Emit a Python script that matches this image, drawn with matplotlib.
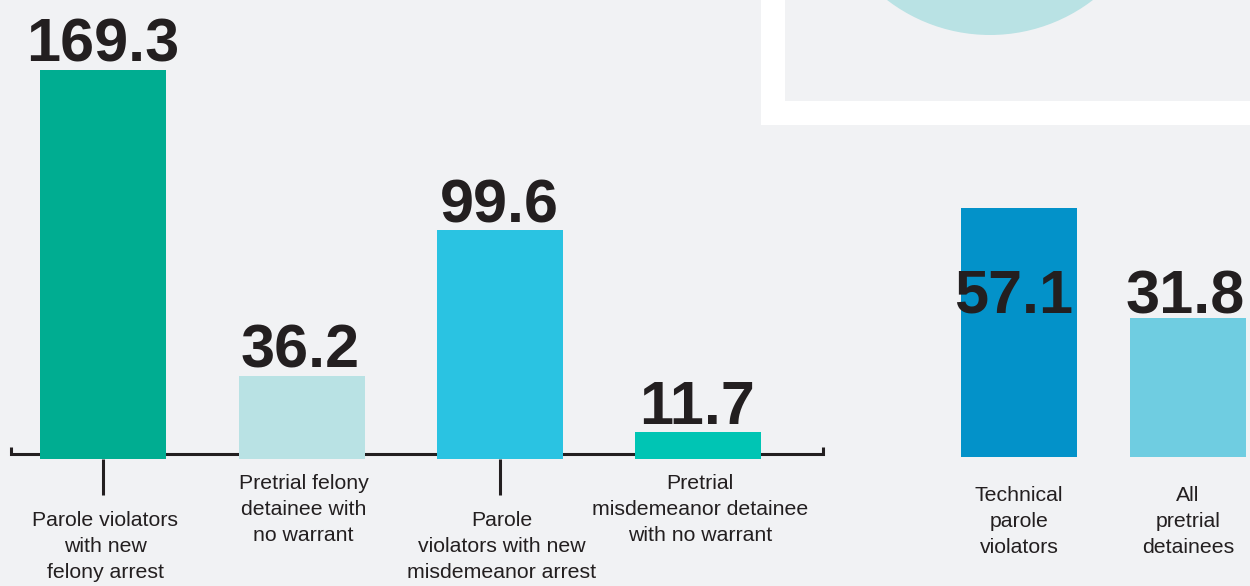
import matplotlib
matplotlib.use("Agg")
import matplotlib.pyplot as plt
from matplotlib.patches import Rectangle, Circle

# ---- data ----
left_categories = [
    "Parole violators\nwith new\nfelony arrest",
    "Pretrial felony\ndetainee with\nno warrant",
    "Parole\nviolators with new\nmisdemeanor arrest",
    "Pretrial\nmisdemeanor detainee\nwith no warrant",
]
left_values = [169.3, 36.2, 99.6, 11.7]
left_labels = ["169.3", "36.2", "99.6", "11.7"]
left_colors = ["#00AD91", "#B9E2E4", "#2AC3E2", "#00C5B4"]

right_categories = ["Technical\nparole\nviolators", "All\npretrial\ndetainees"]
right_values = [57.1, 31.8]
right_labels = ["57.1", "31.8"]
right_colors = ["#0392C9", "#6FCDE1"]

BG = "#F1F2F4"
INK = "#231F20"
NUMFONT = dict(family="Liberation Sans", weight="bold", size=44, color=INK)
LABFONT = dict(family="Liberation Sans", size=15.3, color=INK, linespacing=1.48)

W, H = 1250, 586
fig = plt.figure(figsize=(W / 100, H / 100), dpi=100)
fig.patch.set_facecolor(BG)

def frac(x0, y0, x1, y1):
    # pixel box (top-left origin) -> figure fraction rect
    return [x0 / W, 1 - y1 / H, (x1 - x0) / W, (y1 - y0) / H]

# ---- decorative background (pixel coordinates) ----
bg = fig.add_axes([0, 0, 1, 1], zorder=0)
bg.set_xlim(0, W)
bg.set_ylim(H, 0)
bg.axis("off")
bg.add_patch(Rectangle((761, -20), 600, 145, fc="white", ec="none"))
bg.add_patch(Rectangle((785, -20), 600, 121, fc=BG, ec="none"))
bg.add_patch(Circle((990, -134), 169, fc="#B9E2E4", ec="none"))
# axis bracket for left chart
bg.plot([11, 11, 823, 823], [447, 454, 454, 447], color=INK, lw=2.2,
        solid_joinstyle="miter", solid_capstyle="butt")

# ---- left chart ----
axL = fig.add_axes(frac(0, 0, 830, 459), zorder=2)
axL.set_facecolor("none")
xs = list(range(len(left_values)))
step = 198.3
axL.bar(xs, left_values, width=126 / step, color=left_colors, zorder=3)
axL.set_xlim(-103.3 / step, (830 - 103.3) / step)
axL.set_ylim(0, 459 / 2.298)
axL.axis("off")
for i, (v, lab, cat) in enumerate(zip(left_values, left_labels, left_categories)):
    axL.annotate(lab, (i, v), xytext=(-1, 8), textcoords="offset pixels",
                 ha="center", va="baseline", **NUMFONT)
    low = i % 2 == 0
    if low:
        axL.plot([i, i], [0, -36 / 2.298], color=INK, lw=2.2, clip_on=False,
                 solid_capstyle="butt")
    axL.annotate(cat, (i, 0), xytext=(2, -52 if low else -15),
                 textcoords="offset pixels", ha="center", va="top",
                 annotation_clip=False, **LABFONT)

# ---- right chart ----
axR = fig.add_axes(frac(900, 0, 1250, 457), zorder=2)
axR.set_facecolor("none")
xr = list(range(len(right_values)))
axR.bar(xr, right_values, width=0.686, color=right_colors, zorder=3)
axR.set_xlim(-0.704, 1.367)
axR.set_ylim(0, 457 / 4.3608)
axR.axis("off")
offsets = [(-5, -105), (-3, 5)]
for i, (v, lab, cat) in enumerate(zip(right_values, right_labels, right_categories)):
    axR.annotate(lab, (i, v), xytext=offsets[i], textcoords="offset pixels",
                 ha="center", va="baseline", zorder=5, **NUMFONT)
    axR.annotate(cat, (i, 0), xytext=(0, -29), textcoords="offset pixels",
                 ha="center", va="top", annotation_clip=False, **LABFONT)

fig.savefig("out.png", dpi=100, facecolor=BG)
